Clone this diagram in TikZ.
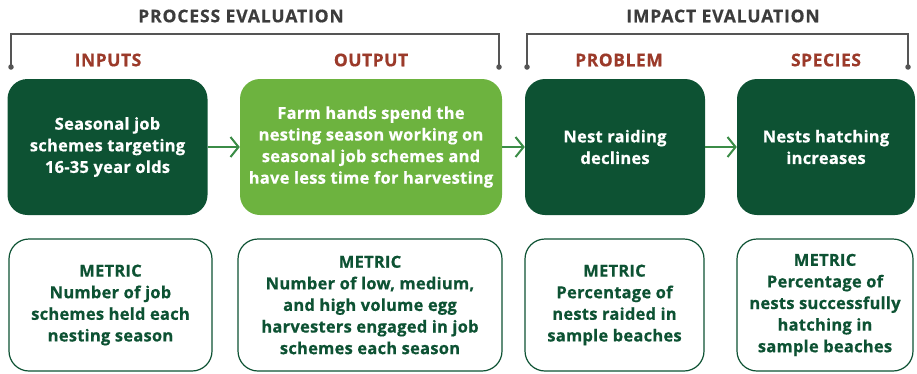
\documentclass[tikz,border=0pt]{standalone}
\usepackage{fontspec}
\setmainfont{Open Sans}[BoldFeatures={FakeBold=0.6}]
\usetikzlibrary{arrows.meta}
\definecolor{dkgreen}{HTML}{0D5233}
\definecolor{ltgreen}{HTML}{6DB33F}
\definecolor{arrowgreen}{HTML}{3B8C47}
\definecolor{labred}{HTML}{9B3A2A}
\definecolor{titlegray}{HTML}{3C3C3C}
\definecolor{brgray}{HTML}{555555}
\begin{document}
\begin{tikzpicture}[x=1pt,y=-1pt,
  txt/.style={font=\bfseries\fontsize{16.5}{21.6}\selectfont\addfontfeatures{LetterSpace=1.5}, align=center, inner sep=0pt},
  topbox/.style={txt, rounded corners=20pt, text=white, minimum height=136pt},
  darkbox/.style={topbox, fill=dkgreen},
  lightbox/.style={topbox, fill=ltgreen},
  metricbox/.style={txt, rounded corners=20pt, draw=dkgreen, line width=1.2pt, text=dkgreen, minimum height=132pt},
  title/.style={font=\bfseries\fontsize{17.5}{20}\selectfont\addfontfeatures{LetterSpace=5}, text=titlegray, inner sep=0pt},
  label/.style={font=\bfseries\fontsize{17.5}{20}\selectfont\addfontfeatures{LetterSpace=3}, text=labred, inner sep=0pt},
  arr/.style={draw=arrowgreen, line width=2pt, -{Straight Barb[length=8pt,width=20pt,line width=2pt]}},
  bracket/.style={draw=brgray, line width=1.2pt},
  dot/.style={circle, fill=brgray, inner sep=0pt, minimum size=5.5pt}]
\useasboundingbox (0,0) rectangle (917,373);
% titles
\node[title] (pe) at (241,16) {PROCESS EVALUATION};
\node[title] (ie) at (723,16) {IMPACT EVALUATION};
% brackets
\coordinate (pa) at (11,34); \coordinate (pb) at (499,34);
\coordinate (ia) at (527,34); \coordinate (ib) at (908,34);
\node[dot] (pl) at (11,67) {}; \node[dot] (pr) at (499,67) {};
\node[dot] (il) at (527,67) {}; \node[dot] (ir) at (908,67) {};
\draw[bracket] (pl.center) -- (pa) -- (pb) -- (pr.center);
\draw[bracket] (il.center) -- (ia) -- (ib) -- (ir.center);
% labels
\node[label] (l1) at (108,60) {INPUTS};
\node[label] (l2) at (371,60) {OUTPUT};
\node[label] (l3) at (619,60) {PROBLEM};
\node[label] (l4) at (826,60) {SPECIES};
% top boxes
\node[darkbox, minimum width=200pt] (b1) at (107.5,147) {Seasonal job\\schemes targeting\\16-35 year olds};
\node[lightbox, minimum width=262pt] (b2) at (371,147) {Farm hands spend the\\nesting season working on\\seasonal job schemes and\\have less time for harvesting};
\node[darkbox, minimum width=180pt] (b3) at (615,147) {Nest raiding\\declines};
\node[darkbox, minimum width=178pt] (b4) at (826,147) {Nests hatching\\increases};
\draw[arr] (b1.east) -- (b2.west);
\draw[arr] (b2.east) -- (b3.west);
\draw[arr] (b3.east) -- (b4.west);
% metric boxes
\node[metricbox, minimum width=203pt] (m1) at (110.5,305) {METRIC\\Number of job\\schemes held each\\nesting season};
\node[metricbox, minimum width=264pt] (m2) at (370,305) {METRIC\\Number of low, medium,\\and high volume egg\\harvesters engaged in job\\schemes each season};
\node[metricbox, minimum width=179pt] (m3) at (614.5,305) {METRIC\\Percentage of\\nests raided in\\sample beaches};
\node[metricbox, minimum width=176pt] (m4) at (825,305) {METRIC\\Percentage of\\nests successfully\\hatching in\\sample beaches};
\end{tikzpicture}
\end{document}
